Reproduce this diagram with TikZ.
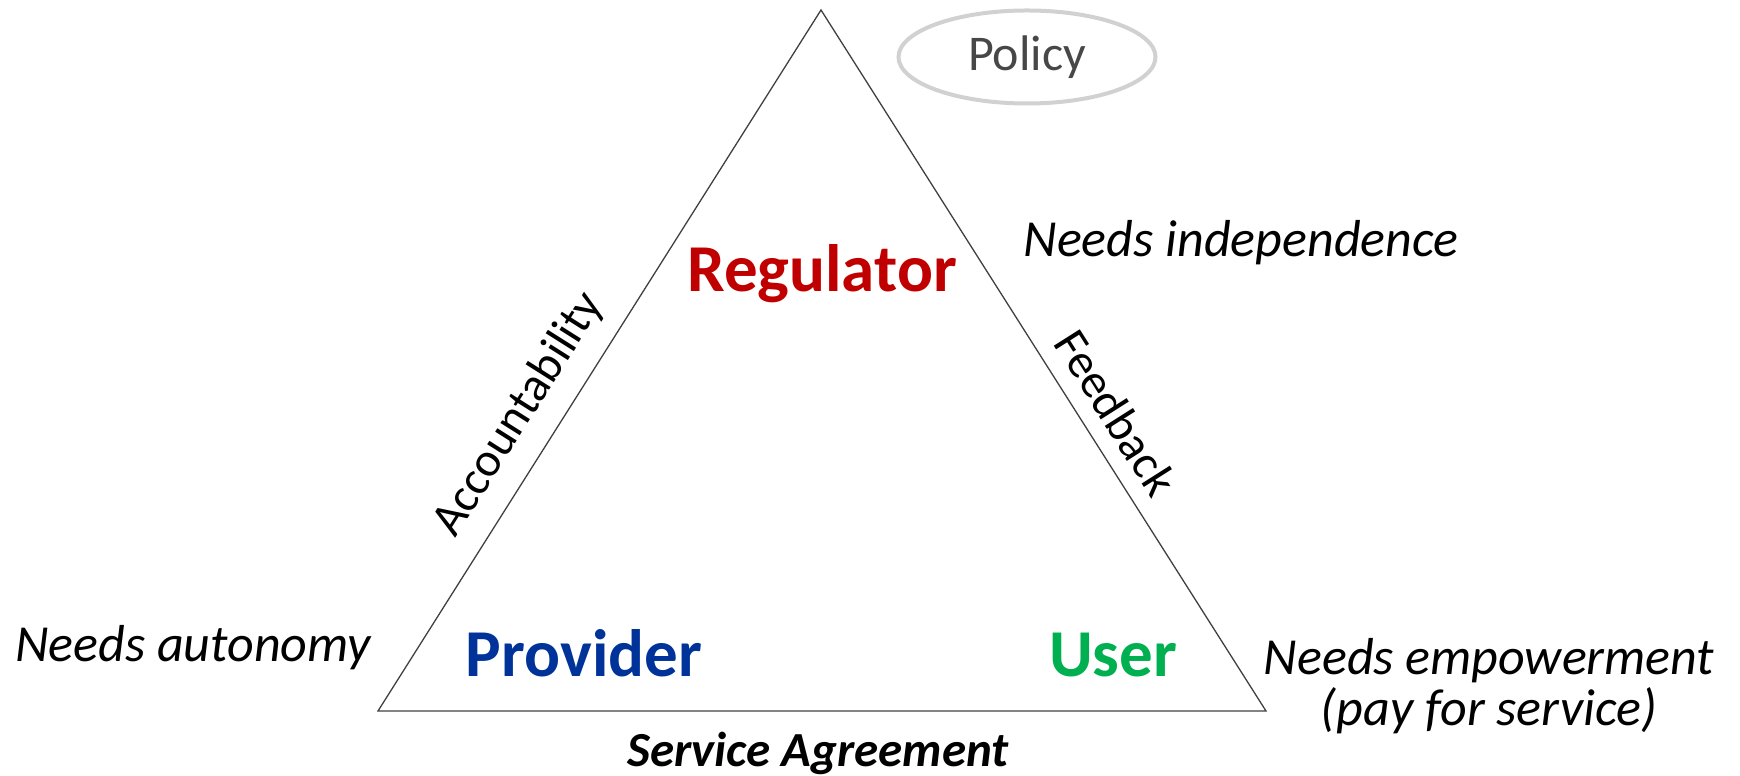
\documentclass[tikz,border=0pt]{standalone}
\usepackage{fontspec}
\setmainfont{Carlito}
\usetikzlibrary{shapes.geometric, positioning}
\definecolor{regred}{HTML}{C00000}
\definecolor{provblue}{HTML}{003399}
\definecolor{usergreen}{HTML}{00B050}

\begin{document}
\begin{tikzpicture}[x=1pt, y=1pt,
	edge/.style={line width=1.3pt, draw=black!75},
	role/.style={font=\fontsize{67}{80}\selectfont\bfseries, inner sep=0pt, anchor=base},
	need/.style={font=\fontsize{52}{51}\selectfont\itshape, inner sep=0pt, anchor=base, align=center},
	side/.style={font=\fontsize{48}{60}\selectfont, text=black, inner sep=0pt, sloped}]
		\useasboundingbox (0,0) rectangle (1740,776);
		\coordinate (R) at (821,766);
		\coordinate (P) at (378,65);
		\coordinate (U) at (1266,65);
		
		\draw[edge] (P) -- node[side, pos=0.393, above=18pt]{Accountability} (R)
			-- node[side, pos=0.6, above=16pt]{Feedback} (U) -- cycle;
		
		\node[role, regred] (reg) at (822,484) {Regulator};
		\node[role, provblue] (prov) at (584,99) {Provider};
		\node[role, usergreen] (user) at (1113,99) {User};
		
		\node[need] (indep) at (1241,519) {Needs independence};
		\node[need] (auto) at (193,114) {Needs autonomy};
		\node[need, anchor=north] (empow) at (1489,138) {Needs empowerment\\(pay for service)};
		\node[need, font=\fontsize{49}{60}\selectfont\bfseries\itshape] (agree) at (818,9) {Service Agreement};
		
		\node[ellipse, draw=black!18, line width=4pt, minimum width=257pt, minimum height=93pt,
			text=black!72, font=\fontsize{50}{60}\selectfont] (policy) at (1027,719) {Policy};
		\end{tikzpicture}
\end{document}
